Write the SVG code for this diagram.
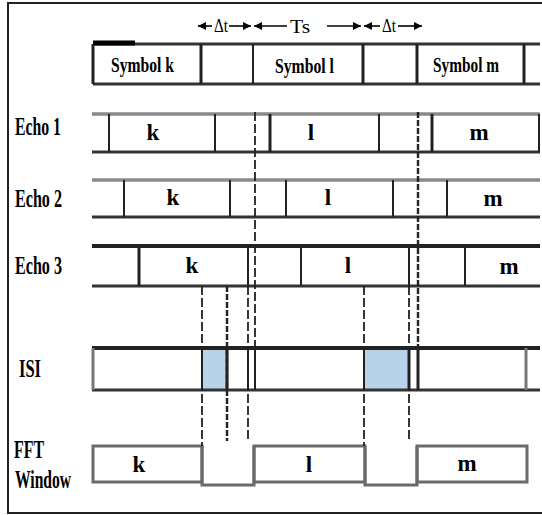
<svg xmlns="http://www.w3.org/2000/svg" width="542" height="515" viewBox="0 0 542 515">
<defs>
<marker id="ah" markerUnits="userSpaceOnUse" markerWidth="9" markerHeight="9" refX="8" refY="4" orient="auto-start-reverse"><path d="M0,0 L8,4 L0,8 Z" fill="#000"/></marker>
<style>
text{font-family:"Liberation Serif","Times New Roman",serif;font-weight:bold;fill:#000}
.lab{font-size:26px}
.sym{font-size:22px}
.let{font-size:23px;text-anchor:middle}
.ar{font-size:18px;font-weight:normal}
.hg{stroke:#8a8a8a;stroke-width:3.5;fill:none}
.hd{stroke:#333;stroke-width:3;fill:none}
.hk{stroke:#222;stroke-width:4;fill:none}
.v{stroke:#222;stroke-width:2;fill:none}
.vt{stroke:#222;stroke-width:3;fill:none}
.vg{stroke:#777;stroke-width:3;fill:none}
.dash{stroke:#222;stroke-width:1.8;stroke-dasharray:9,3;fill:none}
.dash2{stroke:#222;stroke-width:2.4;stroke-dasharray:6,2;fill:none}
.fft{stroke:#6a6a6a;stroke-width:3;fill:none}
.arl{stroke:#000;stroke-width:1.6;fill:none}
</style>
</defs>
<rect width="542" height="515" fill="#fff"/>
<path d="M542,3 H8 V513 H542" stroke="#222" stroke-width="2" fill="none"/>

<g id="timing-arrows">
<line class="arl" x1="212" y1="26" x2="198" y2="26" marker-end="url(#ah)"/>
<text class="ar" x="214" y="32" textLength="14" lengthAdjust="spacingAndGlyphs">Δt</text>
<line class="arl" x1="229" y1="26" x2="251" y2="26" marker-end="url(#ah)"/>
<line class="arl" x1="287" y1="26" x2="254" y2="26" marker-end="url(#ah)"/>
<text class="ar" x="290" y="33" textLength="20" lengthAdjust="spacingAndGlyphs">Ts</text>
<line class="arl" x1="327" y1="26" x2="361" y2="26" marker-end="url(#ah)"/>
<line class="arl" x1="380" y1="26" x2="364" y2="26" marker-end="url(#ah)"/>
<text class="ar" x="382" y="32" textLength="14" lengthAdjust="spacingAndGlyphs">Δt</text>
<line class="arl" x1="398" y1="26" x2="422" y2="26" marker-end="url(#ah)"/>
</g>

<g id="symbol-row">
<line class="hd" x1="93" y1="44" x2="540" y2="44"/>
<line stroke="#000" stroke-width="5" x1="93" y1="43" x2="135" y2="43"/>
<line class="hd" x1="93" y1="84" x2="540" y2="84"/>
<line class="vt" x1="93" y1="44" x2="93" y2="84"/>
<line class="vt" x1="201" y1="44" x2="201" y2="84"/>
<line class="v" x1="253" y1="44" x2="253" y2="84"/>
<line class="vt" x1="363" y1="44" x2="363" y2="84"/>
<line class="vt" x1="417" y1="44" x2="417" y2="84"/>
<line class="vt" x1="524" y1="44" x2="524" y2="84"/>
<text class="sym" x="111" y="72" textLength="63" lengthAdjust="spacingAndGlyphs">Symbol k</text>
<text class="sym" x="275" y="73" textLength="59" lengthAdjust="spacingAndGlyphs">Symbol l</text>
<text class="sym" x="433" y="72" textLength="66" lengthAdjust="spacingAndGlyphs">Symbol m</text>
</g>

<g id="echo1">
<text class="lab" x="15" y="135" textLength="46" lengthAdjust="spacingAndGlyphs">Echo 1</text>
<line class="hg" x1="92" y1="114" x2="540" y2="114"/>
<line class="hd" x1="92" y1="152" x2="540" y2="152"/>
<line class="v" x1="109" y1="114" x2="109" y2="152"/>
<line class="v" x1="215" y1="114" x2="215" y2="152"/>
<line class="vt" x1="270" y1="114" x2="270" y2="152"/>
<line class="v" x1="379" y1="114" x2="379" y2="152"/>
<line class="vt" x1="432" y1="114" x2="432" y2="152"/>
<line class="v" x1="539" y1="114" x2="539" y2="152"/>
<text class="let" x="153" y="140">k</text>
<text class="let" x="311" y="140">l</text>
<text class="let" x="479" y="140">m</text>
</g>

<g id="echo2">
<text class="lab" x="15" y="207" textLength="47" lengthAdjust="spacingAndGlyphs">Echo 2</text>
<line class="hg" x1="92" y1="180" x2="540" y2="180"/>
<line class="hd" x1="92" y1="217" x2="540" y2="217"/>
<line class="v" x1="124" y1="180" x2="124" y2="217"/>
<line class="v" x1="230" y1="180" x2="230" y2="217"/>
<line class="v" x1="286" y1="180" x2="286" y2="217"/>
<line class="v" x1="393" y1="180" x2="393" y2="217"/>
<line class="v" x1="447" y1="180" x2="447" y2="217"/>
<text class="let" x="173" y="205">k</text>
<text class="let" x="328" y="205">l</text>
<text class="let" x="493" y="206">m</text>
</g>

<g id="echo3">
<text class="lab" x="15" y="274" textLength="47" lengthAdjust="spacingAndGlyphs">Echo 3</text>
<line class="hk" x1="92" y1="246" x2="540" y2="246"/>
<line class="hd" x1="92" y1="286" x2="540" y2="286"/>
<line class="vt" x1="139" y1="246" x2="139" y2="286"/>
<line class="v" x1="248" y1="246" x2="248" y2="286"/>
<line class="v" x1="301" y1="246" x2="301" y2="286"/>
<line class="v" x1="409" y1="246" x2="409" y2="286"/>
<line class="v" x1="465" y1="246" x2="465" y2="286"/>
<text class="let" x="192" y="273">k</text>
<text class="let" x="348" y="273">l</text>
<text class="let" x="509" y="274">m</text>
</g>

<g id="isi">
<text class="lab" x="19" y="377" textLength="22" lengthAdjust="spacingAndGlyphs">ISI</text>
<rect x="202" y="349" width="25" height="41" fill="#b8d3e9"/>
<rect x="364" y="349" width="45" height="41" fill="#b8d3e9"/>
<line class="hk" x1="92" y1="348" x2="540" y2="348"/>
<line class="hd" x1="92" y1="390" x2="540" y2="390"/>
<line class="vg" x1="93" y1="348" x2="93" y2="390"/>
<line class="vg" x1="526" y1="348" x2="526" y2="390"/>
<line class="v" x1="202" y1="348" x2="202" y2="390"/>
<line class="vt" x1="227" y1="348" x2="227" y2="390"/>
<line class="v" x1="248" y1="348" x2="248" y2="390"/>
<line class="v" x1="255" y1="348" x2="255" y2="390"/>
<line class="v" x1="364" y1="348" x2="364" y2="390"/>
<line class="vt" x1="409" y1="348" x2="409" y2="390"/>
<line class="vt" x1="418" y1="348" x2="418" y2="390"/>
</g>

<g id="fft-window">
<text class="lab" x="14" y="458" textLength="30" lengthAdjust="spacingAndGlyphs">FFT</text>
<text class="lab" x="15" y="488" textLength="56" lengthAdjust="spacingAndGlyphs">Window</text>
<rect class="fft" x="93" y="446" width="109" height="36"/>
<path class="fft" d="M202,446 V485 H254 V446"/>
<rect class="fft" x="254" y="446" width="111" height="36"/>
<path class="fft" d="M365,446 V485 H417 V446"/>
<rect class="fft" x="417" y="446" width="110" height="36"/>
<text class="let" x="139" y="472">k</text>
<text class="let" x="309" y="472">l</text>
<text class="let" x="467" y="471">m</text>
</g>

<g id="connectors">
<line class="dash" x1="255" y1="112" x2="255" y2="348"/>
<line class="dash2" x1="418" y1="112" x2="418" y2="348"/>
<line class="dash" x1="202" y1="286" x2="202" y2="446"/>
<line class="dash2" x1="227" y1="286" x2="227" y2="441"/>
<line class="dash" x1="248" y1="286" x2="248" y2="441"/>
<line class="dash" x1="364" y1="286" x2="364" y2="446"/>
<line class="dash" x1="409" y1="286" x2="409" y2="441"/>
</g>
</svg>
